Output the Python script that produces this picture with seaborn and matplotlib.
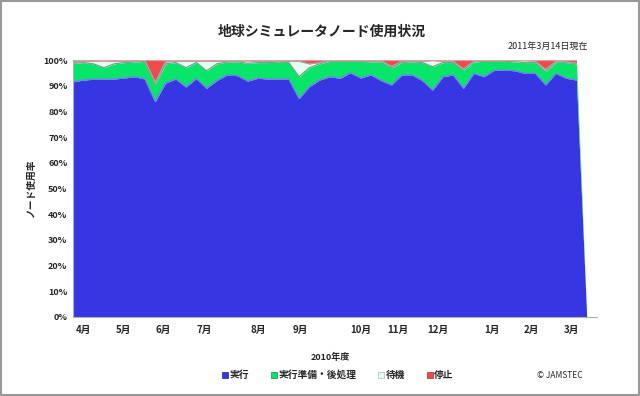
"""
Earth Simulator node usage, FY2010 (stacked area)
"""

import matplotlib
matplotlib.use('Agg')
import matplotlib.pyplot as plt
from matplotlib.lines import Line2D
from matplotlib.patches import Rectangle
import seaborn as sns
import numpy as np
import pandas as pd

# weekly shares (%), 52 weeks, last two weeks not yet measured
run = [91.5, 92.2, 92.5, 92.5, 92.6, 93.0, 93.5, 92.6, 83.8, 91.0,
       92.6, 89.5, 92.8, 89.0, 92.0, 94.2, 93.9, 91.8, 92.9, 92.6,
       92.6, 92.6, 85.0, 89.6, 92.2, 93.5, 92.9, 95.0, 93.0, 94.2,
       92.0, 90.3, 94.2, 94.2, 92.0, 88.3, 93.5, 94.2, 89.0, 94.8,
       93.5, 96.0, 96.1, 95.8, 94.8, 94.8, 90.3, 94.8, 92.9, 92.2,
       0, 0]
prep = [7.2, 6.8, 6.0, 4.5, 5.9, 6.0, 5.7, 6.9, 6.7, 7.5,
        6.4, 7.5, 6.2, 6.8, 6.5, 5.0, 5.4, 6.9, 6.1, 6.4,
        6.6, 6.4, 8.5, 7.4, 6.3, 6.0, 6.6, 4.5, 6.5, 5.1,
        7.2, 6.7, 4.8, 5.1, 7.0, 9.1, 5.5, 4.8, 7.0, 4.4,
        6.0, 3.5, 3.4, 3.5, 4.2, 4.2, 5.2, 4.4, 6.1, 6.3,
        0, 0]
idle = [0.5, 0.4, 1.0, 2.7, 1.0, 0.5, 0.3, 0.2, 0.8, 0.8,
        0.5, 2.5, 0.5, 3.8, 1.0, 0.3, 0.3, 1.0, 0.5, 0.5,
        0.3, 0.5, 6.0, 1.5, 0.5, 0.2, 0.2, 0.2, 0.2, 0.3,
        0.5, 0.5, 0.5, 0.3, 0.5, 2.4, 0.5, 0.5, 0.5, 0.3,
        0.3, 0.3, 0.3, 0.5, 0.8, 0.5, 0.8, 0.3, 0.3, 0.3,
        0, 0]
stop = [0.8, 0.6, 0.5, 0.3, 0.5, 0.5, 0.5, 0.3, 8.7, 0.7,
        0.5, 0.5, 0.5, 0.4, 0.5, 0.5, 0.4, 0.3, 0.5, 0.5,
        0.5, 0.5, 0.5, 1.5, 1.0, 0.3, 0.3, 0.3, 0.3, 0.4,
        0.3, 2.5, 0.5, 0.4, 0.5, 0.2, 0.5, 0.5, 3.5, 0.5,
        0.2, 0.2, 0.2, 0.2, 0.2, 0.5, 3.7, 0.5, 0.7, 1.2,
        0, 0]

months = ['4月', '5月', '6月', '7月', '8月', '9月',
          '10月', '11月', '12月', '1月', '2月', '3月']
series_names = ['実行', '実行準備・後処理', '待機', '停止']

# label positions along the week axis
month_pos = [1.0, 4.9, 8.8, 12.8, 18.0, 22.1, 28.0, 31.6, 35.5, 40.8, 44.6, 48.5]
n_measured = 50

fill_colors = ['#3636e2', '#08e66a', '#e6fbf2', '#f04a4a']
edge_colors = ['#7a7af2', '#6aa886', '#a8a8a8', '#e0a0a0']

sns.set_theme(style='white')
plt.rcParams['font.family'] = ['Noto Sans CJK JP', 'DejaVu Sans']

df = pd.DataFrame({'week': np.arange(len(run)), '実行': run,
                   '実行準備・後処理': prep, '待機': idle, '停止': stop})
cum = df[series_names].cumsum(axis=1)
measured = df['week'] < n_measured

fig = plt.figure(figsize=(6.4, 3.96), dpi=100)
ax = fig.add_axes([73 / 640, 1 - 317 / 396, 524 / 640, 257 / 396])

ax.stackplot(df['week'], [df[c] for c in series_names], colors=fill_colors,
             linewidth=0)
for name, col in zip(series_names, edge_colors):
    sns.lineplot(x=df.loc[measured, 'week'], y=cum.loc[measured, name], ax=ax,
                 color=col, linewidth=0.9, legend=False)

ax.set_xlim(0, len(run) - 1)
ax.set_ylim(0, 100)
ax.set_xlabel('')
ax.set_ylabel('')
ax.set_yticks(range(0, 101, 10))
ax.set_yticklabels([f'{v}%' for v in range(0, 101, 10)], fontsize=6.5,
                   fontweight='bold')
ax.set_xticks(month_pos)
ax.set_xticklabels(months, fontsize=7, fontweight='bold')
ax.tick_params(axis='both', length=0)
ax.tick_params(axis='x', pad=6)
ax.tick_params(axis='y', pad=4)
for side in ['top', 'right']:
    ax.spines[side].set_visible(False)
for side in ['left', 'bottom']:
    ax.spines[side].set_color('#b0b0b0')
    ax.spines[side].set_linewidth(0.8)

fig.text(322 / 640, 1 - 32 / 396, '地球シミュレータノード使用状況',
         fontsize=10, fontweight='bold', ha='center', va='center')
fig.text(588 / 640, 1 - 47 / 396, '2011年3月14日現在', fontsize=6.5,
         ha='right', va='center')
fig.text(31 / 640, 1 - 188 / 396, 'ノード使用率', fontsize=7, fontweight='bold',
         rotation=90, ha='center', va='center')
fig.text(330 / 640, 1 - 357 / 396, '2010年度', fontsize=6.5,
         fontweight='bold', ha='center', va='center')
fig.text(560 / 640, 1 - 376 / 396, '© JAMSTEC', fontsize=6,
         ha='center', va='center')

handles = [Line2D([], [], marker='s', linestyle='', markersize=4,
                  markerfacecolor=c, markeredgecolor=e, markeredgewidth=0.5)
           for c, e in zip(fill_colors, ['#2020a0', '#08904a', '#a0c0b0', '#a03030'])]
fig.legend(handles, series_names, loc='center', ncol=4,
           bbox_to_anchor=(338 / 640, 1 - 375 / 396), frameon=False,
           prop={'size': 7, 'weight': 'bold'}, handlelength=0.6,
           handletextpad=0.2, columnspacing=2.2)

fig.patches.append(Rectangle((0.002, 0.003), 0.996, 0.994, transform=fig.transFigure,
                             fill=False, edgecolor='#999999', linewidth=1.5))

plt.savefig('out.png', dpi=100)
